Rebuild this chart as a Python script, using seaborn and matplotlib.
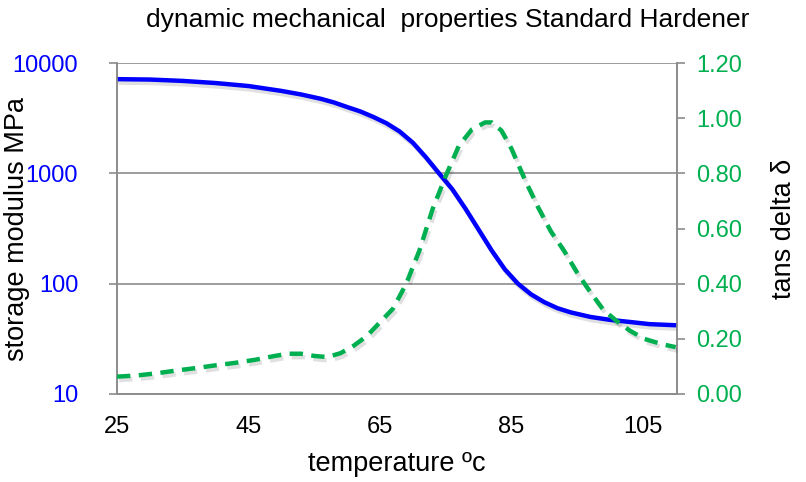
"""
DMA chart: storage modulus (log, left) and tan delta (right) vs temperature.
"""
import pandas as pd
import matplotlib
matplotlib.use("Agg")
import matplotlib.pyplot as plt
import matplotlib.patheffects as pe
import seaborn as sns

# storage modulus readings
temp_modulus = [25, 30, 35, 40, 45, 50, 53, 56, 58, 60, 62, 64, 66, 68, 70,
                72, 74, 76, 78, 80, 82, 84, 86, 88, 90, 92, 94, 97, 100, 103,
                106, 110]
storage_modulus = [7160, 7100, 6900, 6600, 6200, 5600, 5200, 4750, 4400, 4000,
                   3650, 3250, 2850, 2400, 1900, 1400, 1000, 720, 480, 310, 200,
                   135, 100, 80, 68, 60, 55, 50, 47, 45, 43, 42]

# tan delta readings
temp_tan = [25, 28, 31, 34, 37, 40, 43, 46, 49, 51, 53, 55, 57, 59, 61, 63, 65,
            67, 69, 71, 73, 75, 77, 79, 81, 82, 83.5, 85, 87, 89, 91, 93, 95,
            97, 99, 101, 103, 105.2, 108, 110]
tan_delta = [0.063, 0.067, 0.075, 0.085, 0.094, 0.104, 0.113, 0.124, 0.138,
             0.146, 0.146, 0.138, 0.134, 0.148, 0.175, 0.21, 0.26, 0.31, 0.40,
             0.52, 0.67, 0.79, 0.90, 0.96, 0.985, 0.985, 0.955, 0.89, 0.78,
             0.68, 0.59, 0.52, 0.44, 0.37, 0.305, 0.265, 0.23, 0.20, 0.18, 0.17]

x_ticks = [25, 45, 65, 85, 105]
left_ticks = [10, 100, 1000, 10000]
left_labels = ["10", "100", "1000", "10000"]
right_ticks = [0.0, 0.2, 0.4, 0.6, 0.8, 1.0, 1.2]

BLUE = "#0000FF"
GREEN = "#00B050"
GRAY = "#8C8C8C"

sns.set_style("white")
plt.rcParams["font.family"] = ["Liberation Sans", "DejaVu Sans"]
plt.rcParams["text.color"] = "black"
plt.rcParams["axes.labelcolor"] = "black"

modulus_df = pd.DataFrame({"temperature": temp_modulus, "modulus": storage_modulus})
tan_df = pd.DataFrame({"temperature": temp_tan, "tan": tan_delta})

fig = plt.figure(figsize=(8.06, 4.82), dpi=100)
ax = fig.add_axes([0.1452, 0.1826, 0.6948, 0.6864])
ax2 = ax.twinx()

shadow = [pe.SimpleLineShadow(offset=(1.5, -2.5), shadow_color="black", alpha=0.12),
          pe.Normal()]

sns.lineplot(data=modulus_df, x="temperature", y="modulus", color=BLUE,
             linewidth=3.2, ax=ax, zorder=3)
ax.lines[-1].set_path_effects(shadow)
ax.lines[-1].set_solid_joinstyle("round")

sns.lineplot(data=tan_df, x="temperature", y="tan", color=GREEN,
             linewidth=3.2, ax=ax2, zorder=3)
ax2.lines[-1].set_dashes((3.0, 1.9))
ax2.lines[-1].set_path_effects(shadow)

# left axis (log modulus)
ax.set_yscale("log")
ax.set_ylim(10, 10000)
ax.set_xlim(25, 110.2)
ax.set_yticks(left_ticks)
ax.set_yticklabels(left_labels)
ax.minorticks_off()
ax.set_xticks(x_ticks)
ax.yaxis.grid(True, color=GRAY, linewidth=1.2)
ax.set_axisbelow(True)

# right axis (tan delta)
ax2.set_ylim(0, 1.2)
ax2.set_yticks(right_ticks)
ax2.set_yticklabels([f"{v:.2f}" for v in right_ticks])
ax2.minorticks_off()

for a in (ax, ax2):
    for side, sp in a.spines.items():
        sp.set_color(GRAY)
        sp.set_linewidth(1.2)
    a.spines["top"].set_visible(False)
    a.tick_params(axis="both", which="major", direction="out", length=6,
                  width=1.2, color=GRAY, labelsize=17, pad=8)

ax.tick_params(axis="y", labelcolor=BLUE, pad=22, length=6)
ax2.tick_params(axis="y", labelcolor=GREEN, pad=8)
ax.tick_params(axis="x", labelcolor="black", pad=10)

ax.set_xlabel("temperature ºc", fontsize=19.5)
ax.xaxis.set_label_coords(0.5, -0.172)
ax.set_ylabel("storage modulus MPa", fontsize=19.5)
ax.yaxis.set_label_coords(-0.155, 0.5)
ax2.set_ylabel("tans delta δ", fontsize=19.5)
ax2.yaxis.set_label_coords(1.168, 0.5)

fig.text(0.555, 0.958, "dynamic mechanical  properties Standard Hardener",
         ha="center", va="center", fontsize=19)

fig.savefig("out.png", dpi=100)
